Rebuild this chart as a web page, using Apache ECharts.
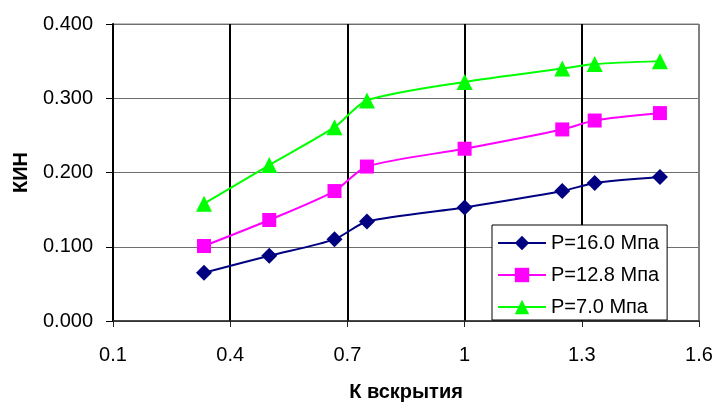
<!DOCTYPE html>
<html>
<head>
<meta charset="utf-8">
<script src="https://cdn.jsdelivr.net/npm/echarts@6/dist/echarts.min.js"></script>
<style>
  html, body { margin: 0; padding: 0; background: #fff; }
  #chart { width: 718px; height: 403px; }
</style>
</head>
<body>
<div id="chart"></div>
<script>
// Opening coefficient (x) and recovery factor for three reservoir pressures
const kOpen = [0.333, 0.5, 0.667, 0.75, 1.0, 1.25, 1.333, 1.5];
const kin160 = [0.065, 0.088, 0.110, 0.134, 0.153, 0.175, 0.186, 0.194];
const kin128 = [0.101, 0.136, 0.175, 0.208, 0.232, 0.258, 0.270, 0.280];
const kin070 = [0.158, 0.210, 0.261, 0.297, 0.322, 0.340, 0.346, 0.350];
const seriesNames = ['P=16.0 Мпа', 'P=12.8 Мпа', 'P=7.0 Мпа'];

const pairs = ys => kOpen.map((x, i) => [x, ys[i]]);
const FONT = '"Liberation Sans", Arial, sans-serif';

const chart = echarts.init(document.getElementById('chart'), null, { renderer: 'canvas' });

function mkSeries(name, ys, color, symbol, size) {
  return {
    name, type: 'line', data: pairs(ys),
    smooth: 0.25,
    symbol, symbolSize: size,
    lineStyle: { color, width: 2 },
    itemStyle: { color, borderWidth: 0 },
    emphasis: { disabled: true },
    z: 5
  };
}

chart.setOption({
  animation: false,
  backgroundColor: '#fff',
  grid: {
    left: 113, right: 19, top: 24, bottom: 82,
    outerBoundsMode: 'none', containLabel: false,
    show: true, borderColor: '#808080', borderWidth: 1
  },
  xAxis: {
    type: 'value', min: 0.1, max: 1.6, interval: 0.3,
    name: 'К вскрытия', nameLocation: 'middle', nameGap: 61,
    nameTextStyle: { fontFamily: FONT, fontSize: 20, fontWeight: 'bold', color: '#000' },
    axisLine: { show: true, lineStyle: { color: '#222', width: 1.5 } },
    axisTick: { show: true, length: 6, lineStyle: { color: '#222' } },
    axisLabel: { fontFamily: FONT, fontSize: 20, color: '#000', margin: 24,
      formatter: v => String(parseFloat(v.toFixed(1))) },
    splitLine: { show: true, lineStyle: { color: ['#000', '#000', '#000', '#000', '#000', '#808080'], width: 2 } }
  },
  yAxis: {
    type: 'value', min: 0, max: 0.4, interval: 0.1,
    name: 'КИН', nameLocation: 'middle', nameGap: 82,
    nameTextStyle: { fontFamily: FONT, fontSize: 20, fontWeight: 'bold', color: '#000' },
    axisLine: { show: true, lineStyle: { color: '#000', width: 2 } },
    axisTick: { show: true, length: 7, lineStyle: { color: '#000' } },
    axisLabel: { fontFamily: FONT, fontSize: 20, color: '#000', margin: 20,
      formatter: v => v.toFixed(3) },
    splitLine: { show: true, lineStyle: { color: '#6e6e6e', width: 1 } }
  },
  legend: {
    orient: 'vertical', left: 492, top: 225,
    padding: [8, 8, 3, 5], itemGap: 12,
    itemWidth: 48, itemHeight: 18,
    backgroundColor: '#fff', borderColor: '#000', borderWidth: 1,
    textStyle: { fontFamily: FONT, fontSize: 20, color: '#000' },
    data: seriesNames
  },
  series: [
    mkSeries(seriesNames[0], kin160, '#000080', 'diamond', 16),
    mkSeries(seriesNames[1], kin128, '#ff00ff', 'rect', 14),
    mkSeries(seriesNames[2], kin070, '#00ff00', 'triangle', 16)
  ]
});
</script>
</body>
</html>
